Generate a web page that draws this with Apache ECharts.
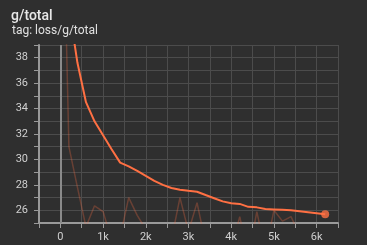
<!DOCTYPE html>
<html><head><meta charset="utf-8">
<script src="https://cdn.jsdelivr.net/npm/echarts@6/dist/echarts.min.js"></script>
<style>html,body{margin:0;padding:0;background:#2f2f2f;}#c{width:367px;height:245px;}</style>
</head><body><div id="c"></div>
<script>
const steps = [0,200,400,600,800,1000,1200,1400,1600,1800,2000,2200,2400,2600,2800,3000,3200,3400,3600,3800,4000,4200,4400,4600,4800,5000,5200,5400,5600,5800,6000,6200];
const rawValues = [60,31.0,27.8,24.7,26.35,25.9,23.65,23.9,27.0,25.6,24.5,24.0,24.3,23.67,27.0,24.33,26.6,23.4,24.0,24.2,23.0,25.5,22.3,25.9,22.7,26.0,25.15,25.5,24.07,24.5,24.3,24.6];
const smoothedValues = [60,42,37.6,34.5,33.0,31.9,30.8,29.75,29.45,29.1,28.7,28.32,28.0,27.75,27.62,27.53,27.46,27.2,26.95,26.7,26.56,26.5,26.27,26.23,26.1,26.07,26.04,26.0,25.92,25.84,25.76,25.68];
const title = 'g/total';
const subtitle = 'tag: loss/g/total';

const chart = echarts.init(document.getElementById('c'));
const axisFont = {color:'#d0d0d0', fontSize:11, fontFamily:'Roboto'};
chart.setOption({
  backgroundColor:'#2f2f2f',
  animation:false,
  title:[
    {text:title, left:6, top:4, textStyle:{color:'#e8e8e8', fontSize:14, fontWeight:500, fontFamily:'Roboto'}},
    {text:subtitle, left:7, top:20, textStyle:{color:'#e0e0e0', fontSize:12, fontWeight:400, fontFamily:'Roboto'}}
  ],
  grid:{left:39, right:29, top:45, bottom:22},
  xAxis:{type:'value', min:-500, max:6500, interval:500,
    axisLine:{show:true, onZero:false, lineStyle:{color:'#9a9a9a', width:2}},
    axisTick:{show:true, length:5, lineStyle:{color:'#9a9a9a'}},
    axisLabel:Object.assign({margin:9, formatter:v=> v%1000===0 ? (v===0?'0':(v/1000)+'k') : ''}, axisFont),
    splitLine:{show:true, lineStyle:{color:'#4c4c4c', width:1}}
  },
  yAxis:{type:'value', min:25, max:39, interval:1,
    axisLine:{show:true, onZero:false, lineStyle:{color:'#9a9a9a', width:2}},
    axisTick:{show:true, length:5, lineStyle:{color:'#9a9a9a'}},
    axisLabel:Object.assign({margin:11, formatter:v=> v%2===0 ? String(v) : ''}, axisFont),
    splitLine:{show:true, lineStyle:{color:'#4c4c4c', width:1}}
  },
  series:[
    {type:'line', data:steps.map((s,i)=>[s,rawValues[i]]), symbol:'none', clip:true,
     lineStyle:{color:'rgba(255,112,67,0.28)', width:1.5},
     markLine:{silent:true, symbol:'none', label:{show:false}, lineStyle:{color:'#8a8a8a', type:'solid', width:2}, data:[{xAxis:0}]}},
    {type:'line', data:steps.map((s,i)=>[s,smoothedValues[i]]), symbol:'none', clip:true,
     lineStyle:{color:'#ff7043', width:2}},
    {type:'scatter', data:[[steps[steps.length-1], smoothedValues[smoothedValues.length-1]]], symbol:'circle', symbolSize:8,
     itemStyle:{color:'#ff7043'}}
  ]
});
</script></body></html>
